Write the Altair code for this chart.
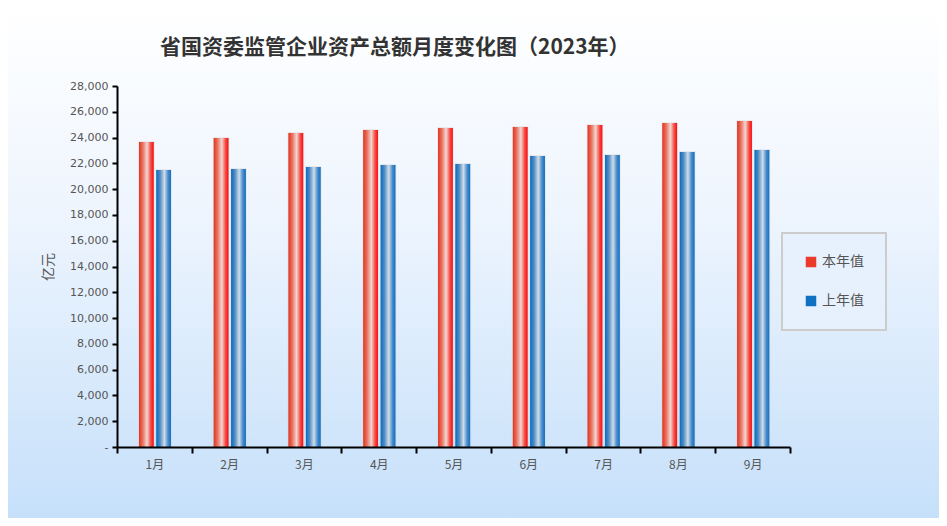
import altair as alt
import pandas as pd

months = ["1月", "2月", "3月", "4月", "5月", "6月", "7月", "8月", "9月"]
this_year = [23650, 23970, 24350, 24590, 24740, 24820, 24980, 25130, 25290]
last_year = [21490, 21560, 21720, 21870, 21950, 22570, 22650, 22880, 23040]
series = ["本年值", "上年值"]
y_ticks = list(range(0, 28001, 2000))
title_text = "省国资委监管企业资产总额月度变化图（2023年）"

df = pd.DataFrame(
    [{"月份": m, "系列": series[0], "值": v} for m, v in zip(months, this_year)]
    + [{"月份": m, "系列": series[1], "值": v} for m, v in zip(months, last_year)]
)

W, H = 673, 361
PL, PT, PR, PB = 109, 78, 149, 71
FONT = "Noto Sans CJK SC"
NUMFONT = "DejaVu Sans"

red_grad = alt.Gradient(
    gradient="linear", x1=0, y1=0, x2=1, y2=0,
    stops=[
        alt.GradientStop(offset=0, color="#e4341f"),
        alt.GradientStop(offset=0.25, color="#e8705e"),
        alt.GradientStop(offset=0.55, color="#f2d6d2"),
        alt.GradientStop(offset=0.8, color="#f4504a"),
        alt.GradientStop(offset=1, color="#ff0a0a"),
    ],
)
blue_grad = alt.Gradient(
    gradient="linear", x1=0, y1=0, x2=1, y2=0,
    stops=[
        alt.GradientStop(offset=0, color="#0a6cbf"),
        alt.GradientStop(offset=0.25, color="#4f8cc4"),
        alt.GradientStop(offset=0.55, color="#d0dde8"),
        alt.GradientStop(offset=0.8, color="#4a8ccc"),
        alt.GradientStop(offset=1, color="#1070c2"),
    ],
)
bg_grad = alt.Gradient(
    gradient="linear", x1=0, y1=0, x2=0, y2=1,
    stops=[
        alt.GradientStop(offset=0, color="#ffffff"),
        alt.GradientStop(offset=0.4, color="#eef5fe"),
        alt.GradientStop(offset=1, color="#c6e0fa"),
    ],
)

x_enc = alt.X(
    "月份:N", sort=months, title=None,
    scale=alt.Scale(domain=months, paddingInner=0, paddingOuter=0),
    axis=alt.Axis(
        tickBand="extent", labelAngle=0, domainColor="#000000", domainWidth=2,
        tickColor="#000000", tickWidth=2, tickSize=6, labelPadding=6,
        labelColor="#555555", labelFont=FONT, labelFontSize=12, grid=False,
        zindex=1,
    ),
)
y_enc = alt.Y(
    "值:Q", title="亿元",
    scale=alt.Scale(domain=[0, 28000], nice=False),
    axis=alt.Axis(
        values=y_ticks,
        labelExpr="datum.value == 0 ? '-' : format(datum.value, ',')",
        domainColor="#000000", domainWidth=2, tickColor="#000000", tickWidth=2,
        tickSize=5, labelColor="#555555", labelFont=NUMFONT, labelFontSize=11,
        labelPadding=4, grid=False, titleFont=FONT, titleFontSize=14,
        titleFontWeight="normal", titleColor="#555555", titlePadding=14,
        zindex=1,
    ),
)
xoff_enc = alt.XOffset(
    "系列:N", sort=series,
    scale=alt.Scale(domain=series, range=[22, 54], paddingInner=0.16, paddingOuter=0),
)

background = alt.Chart(pd.DataFrame({"k": [0]})).mark_rect(fill=bg_grad).encode(
    x=alt.value(-PL), x2=alt.value(W + PR), y=alt.value(-PT), y2=alt.value(H + PB)
)

title_mark = alt.Chart(pd.DataFrame({"t": [title_text]})).mark_text(
    align="left", baseline="middle", font=FONT, fontSize=21,
    fontWeight="bold", color="#333333",
).encode(text="t:N", x=alt.value(43), y=alt.value(-38))

base_bars = alt.Chart(df).mark_bar(
    stroke="#c8c8c8", strokeOpacity=0.3, strokeWidth=2
).encode(
    x=x_enc, y=y_enc, xOffset=xoff_enc,
    color=alt.Color(
        "系列:N", sort=series,
        scale=alt.Scale(domain=series, range=["#ec3a2a", "#1070c2"]),
        legend=alt.Legend(
            title=None, orient="none", legendX=665, legendY=147,
            direction="vertical", symbolType="square", symbolSize=110,
            symbolStrokeWidth=0, labelFont=FONT, labelFontSize=14,
            labelColor="#555555", rowPadding=25, padding=22,
            strokeColor="#cccccc", fillColor="#e6f1fd", labelOffset=4,
        ),
    ),
)

red_bars = alt.Chart(df).transform_filter(
    alt.datum["系列"] == series[0]
).mark_bar(fill=red_grad).encode(x=x_enc, y=y_enc, xOffset=xoff_enc)

blue_bars = alt.Chart(df).transform_filter(
    alt.datum["系列"] == series[1]
).mark_bar(fill=blue_grad).encode(x=x_enc, y=y_enc, xOffset=xoff_enc)

chart = alt.layer(background, title_mark, base_bars, red_bars, blue_bars).properties(
    width=W, height=H,
    padding={"left": PL, "top": PT, "right": PR, "bottom": PB},
    autosize=alt.AutoSizeParams(type="none"),
).configure_view(stroke=None).configure_legend(strokeWidth=2)

chart.save("out.html", embed_options={"renderer": "svg", "actions": False})
